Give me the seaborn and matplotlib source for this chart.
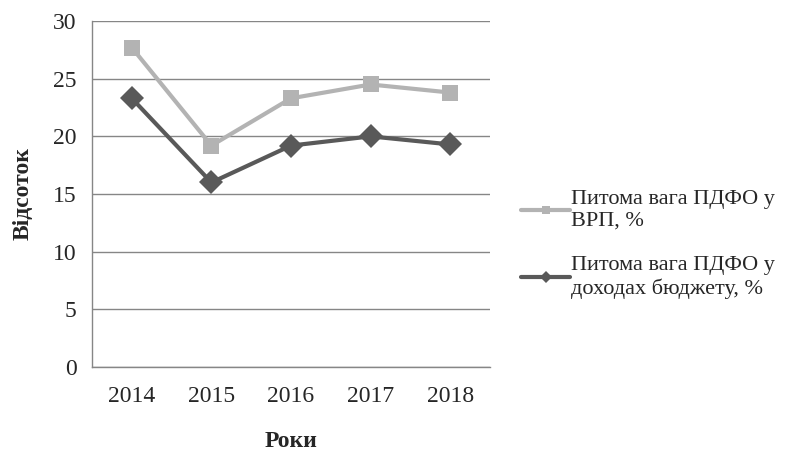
import numpy as np
import pandas as pd
import matplotlib
matplotlib.use('Agg')
import matplotlib.pyplot as plt
from matplotlib.ticker import FixedLocator, NullFormatter
import seaborn as sns

years = ['2014', '2015', '2016', '2017', '2018']
share_grp = [27.7, 19.2, 23.3, 24.5, 23.8]
share_budget = [23.3, 16.0, 19.2, 20.0, 19.3]
label_grp = 'Питома вага ПДФО у\nВРП, %'
label_budget = 'Питома вага ПДФО у\nдоходах бюджету, %'

sns.set_style('white')
plt.rcParams['font.family'] = ['Liberation Serif', 'DejaVu Serif']

df = pd.DataFrame({
    'year': years * 2,
    'value': share_grp + share_budget,
    'series': [label_grp] * len(years) + [label_budget] * len(years),
})

fig = plt.figure(figsize=(7.85, 4.51), dpi=100)
ax = fig.add_axes([0.1172, 0.1863, 0.507, 0.767])

sns.lineplot(data=df, x='year', y='value', hue='series', style='series',
             palette=['#b3b3b3', '#595959'],
             markers={label_grp: 's', label_budget: 'D'},
             dashes=False, linewidth=3, markersize=12,
             markeredgewidth=0, ax=ax, legend=True)

ax.set_ylim(0, 30)
ax.set_xlim(-0.5, 4.5)
ax.set_yticks(np.arange(0, 31, 5))
ax.yaxis.grid(True, color='#868686', linewidth=1)
ax.set_axisbelow(True)

for side in ['top', 'right']:
    ax.spines[side].set_visible(False)
for side in ['left', 'bottom']:
    ax.spines[side].set_color('#868686')
    ax.spines[side].set_linewidth(1)

ax.tick_params(axis='y', which='major', direction='out', length=7,
               width=1, color='#868686', labelsize=17, pad=4)
ax.tick_params(axis='x', which='major', length=0, labelsize=17, pad=14)
ax.xaxis.set_minor_locator(FixedLocator(np.arange(-0.5, 5, 1)))
ax.xaxis.set_minor_formatter(NullFormatter())
ax.tick_params(axis='x', which='minor', direction='out', length=6,
               width=1, color='#868686')

ax.set_xlabel('Роки', fontsize=17, fontweight='bold', labelpad=17)
ax.set_ylabel('Відсоток', fontsize=17, fontweight='bold', labelpad=14)

handles, labels = ax.get_legend_handles_labels()
ax.get_legend().remove()
fig.legend(handles, labels, loc='center left',
           bbox_to_anchor=(0.664, 0.458), frameon=False, fontsize=16,
           handlelength=2.2, handletextpad=0.05, labelspacing=1.15,
           markerscale=0.5, borderpad=0, borderaxespad=0)

fig.savefig('out.png', dpi=100)
